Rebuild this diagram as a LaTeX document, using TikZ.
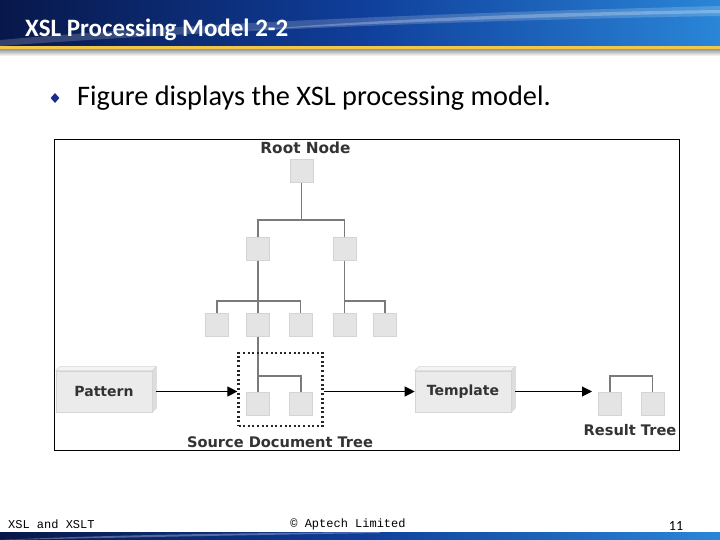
\documentclass[tikz,border=0pt]{standalone}
\usepackage{fontspec}
\setmainfont{Carlito}
\newfontfamily\vfont{DejaVu Sans}
\newfontfamily\mfont{Liberation Mono}
\usetikzlibrary{arrows.meta,calc,shapes.geometric}
\definecolor{hdark}{HTML}{08174A}
\definecolor{hmid}{HTML}{0F3E9A}
\definecolor{hlight}{HTML}{2A86D8}
\definecolor{hyellow}{HTML}{EFC84B}
\definecolor{bulblue}{HTML}{1A2C8C}
\definecolor{boxfill}{HTML}{E4E4E4}
\definecolor{boxedge}{HTML}{D4D4D4}
\definecolor{tgray}{HTML}{7A7A7A}
\definecolor{lbl}{HTML}{333333}
\definecolor{facefill}{HTML}{EBEBEB}
\definecolor{toptone}{HTML}{F4F4F4}
\definecolor{sidetone}{HTML}{DDDDDD}
\tikzset{
  gbox/.style={fill=boxfill, draw=boxedge, line width=0.6pt, minimum width=23, minimum height=23, inner sep=0},
  thick tree/.style={draw=tgray, line width=1.7pt},
  thin tree/.style={draw=tgray, line width=1.1pt},
  lbltext/.style={text=lbl, font=\vfont\bfseries\fontsize{14.6}{17}\selectfont, inner sep=0},
  facebox/.style={fill=facefill, draw=boxedge, line width=0.6pt, minimum width=96, minimum height=41, inner sep=0, font=\vfont\bfseries\fontsize{14}{16}\selectfont, text=lbl},
  arr/.style={draw=black, line width=1pt, -{Triangle[length=10pt,width=10pt]}},
}
\begin{document}
\begin{tikzpicture}[x=1pt,y=-1pt]
\useasboundingbox (0,0) rectangle (720,540);
\fill[white] (0,0) rectangle (720,540);
% header
\shade[left color=hdark, right color=hlight, middle color=hmid] (0,0) rectangle (720,46);
\fill[white, opacity=0.18] (0,40) .. controls (200,22) and (480,12) .. (720,6) -- (720,16) .. controls (480,20) and (220,30) .. (0,46) -- cycle;
\fill[white, opacity=0.25] (250,30) .. controls (400,18) and (560,12) .. (720,10) -- (720,13) .. controls (560,16) and (400,22) .. (250,30) -- cycle;
\fill[hyellow] (0,46) rectangle (720,50);
\shade[top color=black!35, bottom color=white] (0,50) rectangle (720,56);
\node[anchor=base west, font=\bfseries\fontsize{25}{29}\selectfont, text=white, inner sep=0] (title) at (25,37) {XSL Processing Model 2-2};
% bullet
\node[diamond, fill=bulblue, minimum width=9, minimum height=10, inner sep=0] (bul) at (55,98) {};
\node[anchor=base west, font=\fontsize{28.3}{32}\selectfont, inner sep=0] (btxt) at (77,106) {Figure displays the XSL processing model.};
% frame
\node[draw=black, line width=1pt, minimum width=625, minimum height=311, anchor=north west, inner sep=0] (frame) at (54,139) {};
% tree
\node[lbltext, font=\vfont\bfseries\fontsize{15.3}{17}\selectfont] (rootlbl) at (305.5,148) {Root Node};
\node[gbox] (r) at (301.5,171) {};
\node[gbox] (a) at (258,249) {};
\node[gbox] (b) at (344.5,249) {};
\node[gbox] (c1) at (217,325) {};
\node[gbox] (c2) at (258,325) {};
\node[gbox] (c3) at (300.5,325) {};
\node[gbox] (c4) at (344.5,325) {};
\node[gbox] (c5) at (385,325) {};
\node[gbox] (s1) at (258,403.5) {};
\node[gbox] (s2) at (301,403.5) {};
\node[gbox] (t1) at (610,403.5) {};
\node[gbox] (t2) at (652.5,403.5) {};
\coordinate (j1) at (301.5,220);
\coordinate (j2) at (258,301);
\coordinate (j3) at (344.5,301);
\coordinate (j4) at (258,376);
\coordinate (j5) at (610,376);
\draw[thick tree] (r.south) -- (j1);
\draw[thick tree] (a.north) |- (j1) -| (b.north);
\draw[thick tree] (a.south) -- (c2.north);
\draw[thin tree] (c1.north) |- (j2) -| (c3.north);
\draw[thick tree] (b.south) -- (c4.north);
\draw[thin tree] (j3) -| (c5.north);
\draw[thick tree] (c2.south) -- (s1.north);
\draw[thin tree] (j4) -| (s2.north);
\draw[thin tree] (t1.north) |- (j5) -| (t2.north);
% dotted source box
\node[draw=black!85, line width=2.2pt, dash pattern=on 2pt off 2.6pt, minimum width=84, minimum height=73, inner sep=0] (dbox) at (280.5,389.5) {};
\node[lbltext] (srclbl) at (280,442) {Source Document Tree};
% pattern and template boxes (3D)
\node[facebox] (pat) at (104,391.5) {Pattern};
\node[facebox] (tpl) at (463,391.5) {Template};
\foreach \bx in {pat,tpl}{
  \fill[toptone, draw=boxedge, line width=0.5pt] (\bx.north west) -- ++(4,-4) -- ($(\bx.north east)+(4,-4)$) -- (\bx.north east) -- cycle;
  \fill[sidetone, draw=boxedge, line width=0.5pt] (\bx.north east) -- ++(4,-4) -- ($(\bx.south east)+(4,-4)$) -- (\bx.south east) -- cycle;
}
\node[lbltext] (reslbl) at (630,430) {Result Tree};
\coordinate (rin) at (592,391.5);
\draw[arr] ([xshift=4pt]pat.east) -- (dbox.west |- pat.east);
\draw[arr] (dbox.east |- tpl.west) -- (tpl.west);
\draw[arr] ([xshift=4pt]tpl.east) -- (rin);
% footer
\shade[left color=hdark, right color=hlight, middle color=hmid] (0,532) rectangle (720,540);
\fill[white, opacity=0.3] (0,540) .. controls (100,535) and (250,533) .. (380,532) -- (380,533) .. controls (250,535) and (100,538) .. (0,540) -- cycle;
\node[anchor=base west, font=\mfont\fontsize{12}{14}\selectfont, inner sep=0] (foot1) at (8,528) {XSL and XSLT};
\node[anchor=base, font=\mfont\fontsize{12}{14}\selectfont, inner sep=0] (foot2) at (348,527) {© Aptech Limited};
\node[anchor=base, font=\fontsize{14}{16}\selectfont, inner sep=0] (foot3) at (676,530) {11};
\end{tikzpicture}
\end{document}
